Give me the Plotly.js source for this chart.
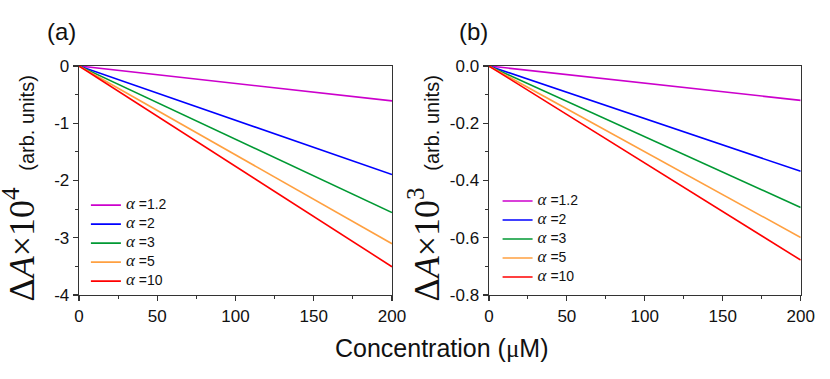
<!DOCTYPE html>
<html>
<head>
<meta charset="utf-8">
<script src="https://cdn.plot.ly/plotly-3.0.1.min.js"></script>
<style>body{margin:0;background:#fff}#chart{width:830px;height:379px}</style>
</head>
<body>
<div id="chart"></div>
<script>
// concentration (uM)
let conc = [0, 50, 100, 150, 200];
let alphas = ['1.2', '2', '3', '5', '10'];
let colors = ['#cc00cc', '#0000ff', '#009933', '#ffa040', '#ff0000'];

// panel (a): dA x 10^4
let aVals = [
  [0, -0.153, -0.305, -0.458, -0.61],
  [0, -0.474, -0.948, -1.421, -1.895],
  [0, -0.64, -1.28, -1.92, -2.56],
  [0, -0.776, -1.553, -2.329, -3.105],
  [0, -0.877, -1.753, -2.630, -3.506]
];
// panel (b): dA x 10^3
let bVals = [
  [0, -0.030, -0.060, -0.090, -0.120],
  [0, -0.092, -0.184, -0.276, -0.368],
  [0, -0.124, -0.247, -0.371, -0.494],
  [0, -0.150, -0.300, -0.449, -0.599],
  [0, -0.170, -0.339, -0.509, -0.678]
];

let xTicks = [0, 50, 100, 150, 200];
let aTicks = [0, -1, -2, -3, -4];
let aTickText = ['0', '-1', '-2', '-3', '-4'];
let bTicks = [0, -0.2, -0.4, -0.6, -0.8];
let bTickText = ['0.0', '-0.2', '-0.4', '-0.6', '-0.8'];

let traces = [];
for (let i = 0; i < alphas.length; i++) {
  // small legend font keeps rows tight, spans set the visible size
  let nm = '<span style="font-family:Liberation Serif;font-style:italic;font-size:17px">α</span>' +
    '<span style="font-size:14px"> =' + alphas[i] + '</span>';
  traces.push({
    x: conc, y: aVals[i], mode: 'lines', type: 'scatter', name: nm,
    line: {color: colors[i], width: 1.6}, xaxis: 'x', yaxis: 'y', legend: 'legend'
  });
  traces.push({
    x: conc, y: bVals[i], mode: 'lines', type: 'scatter', name: nm,
    line: {color: colors[i], width: 1.6}, xaxis: 'x2', yaxis: 'y2', legend: 'legend2'
  });
}

let axisStyle = {
  showline: true, linecolor: '#333', linewidth: 1.3, mirror: true,
  ticks: 'outside', ticklen: 5, tickwidth: 1.3, tickcolor: '#333',
  showgrid: false, zeroline: false,
  tickfont: {family: 'Liberation Sans, Arial', size: 17, color: '#111'}
};

function ytitle(p, xpx) {
  return {
    text: '<span style="font-family:Liberation Serif;font-size:36px">Δ<i>A</i>×10<sup>' + p + '</sup></span>' +
      '&nbsp;&nbsp;&nbsp;(arb. units)&nbsp;&nbsp;&nbsp;',
    xref: 'paper', yref: 'paper', x: xpx / 830, y: 1 - 180.5 / 379,
    xanchor: 'center', yanchor: 'middle', textangle: -90, showarrow: false,
    font: {family: 'Liberation Sans, Arial', size: 20, color: '#111'}
  };
}

let legendStyle = {
  xanchor: 'left', yanchor: 'top', bgcolor: 'rgba(0,0,0,0)',
  font: {family: 'Liberation Sans, Arial', size: 11, color: '#111'}, tracegroupgap: 0, itemwidth: 30
};

let layout = {
  width: 830, height: 379,
  margin: {l: 0, r: 0, t: 0, b: 0},
  paper_bgcolor: '#fff', plot_bgcolor: '#fff',
  showlegend: true,
  xaxis: Object.assign({}, axisStyle, {domain: [0.0952, 0.4723], range: [0, 200], tickvals: xTicks,
    minor: {ticks: 'outside', ticklen: 3, tickwidth: 1.2, dtick: 25, tickcolor: '#333'}, anchor: 'y'}),
  yaxis: Object.assign({}, axisStyle, {domain: [0.2216, 0.8259], range: [-4, 0], tickvals: aTicks, ticktext: aTickText,
    minor: {ticks: 'outside', ticklen: 3, tickwidth: 1.2, dtick: 0.5, tickcolor: '#333'}, anchor: 'x'}),
  xaxis2: Object.assign({}, axisStyle, {domain: [0.589, 0.9647], range: [0, 200], tickvals: xTicks,
    minor: {ticks: 'outside', ticklen: 3, tickwidth: 1.2, dtick: 25, tickcolor: '#333'}, anchor: 'y2'}),
  yaxis2: Object.assign({}, axisStyle, {domain: [0.2216, 0.8259], range: [-0.8, 0], tickvals: bTicks, ticktext: bTickText,
    minor: {ticks: 'outside', ticklen: 3, tickwidth: 1.2, dtick: 0.1, tickcolor: '#333'}, anchor: 'x2'}),
  legend: Object.assign({}, legendStyle, {x: 0.1035, y: 0.497}),
  legend2: Object.assign({}, legendStyle, {x: 0.5995, y: 0.508}),
  annotations: [
    ytitle(4, 19),
    ytitle(3, 424),
    {text: '(a)', xref: 'paper', yref: 'paper', x: 61 / 830, y: 1 - 31 / 379, xanchor: 'center', yanchor: 'middle',
      showarrow: false, font: {family: 'Liberation Sans, Arial', size: 24, color: '#111'}},
    {text: '(b)', xref: 'paper', yref: 'paper', x: 473 / 830, y: 1 - 31 / 379, xanchor: 'center', yanchor: 'middle',
      showarrow: false, font: {family: 'Liberation Sans, Arial', size: 24, color: '#111'}},
    {text: 'Concentration (<span style="font-family:Liberation Serif">μ</span>M)', xref: 'paper', yref: 'paper',
      x: 442 / 830, y: 1 - 348 / 379, xanchor: 'center', yanchor: 'middle',
      showarrow: false, font: {family: 'Liberation Sans, Arial', size: 25, color: '#111'}}
  ]
};

Plotly.newPlot('chart', traces, layout, {staticPlot: true});
</script>
</body>
</html>
